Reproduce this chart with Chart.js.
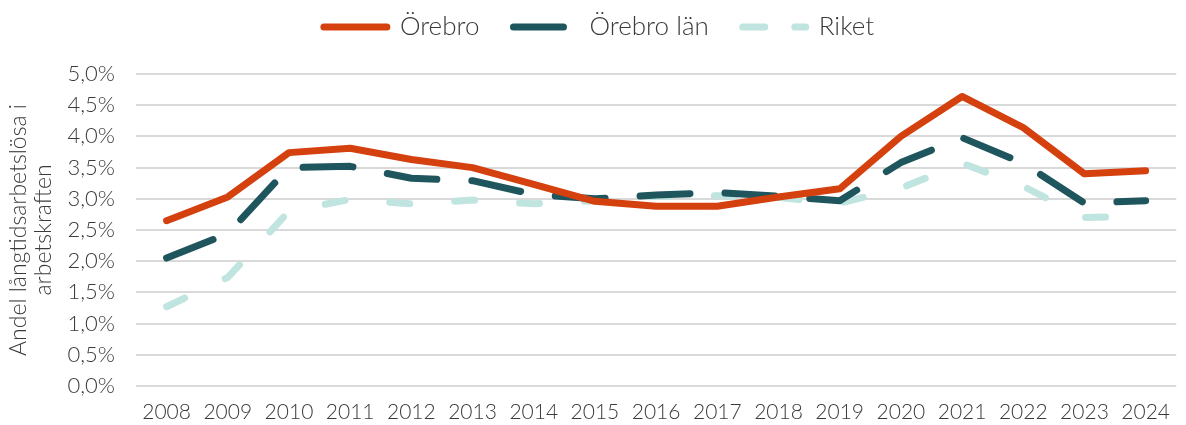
<!DOCTYPE html>
<html>
<head>
<meta charset="utf-8">
<script src="https://cdn.jsdelivr.net/npm/chart.js@4"></script>
<style>
html,body{margin:0;padding:0;background:#fff;}
#wrap{width:1186px;height:425px;position:relative;}
</style>
</head>
<body>
<div id="wrap"><canvas id="c"></canvas></div>
<script>
const years = ['2008','2009','2010','2011','2012','2013','2014','2015','2016','2017','2018','2019','2020','2021','2022','2023','2024'];
const orebro    = [2.65,3.03,3.74,3.81,3.63,3.50,3.23,2.96,2.88,2.88,3.03,3.16,4.00,4.64,4.14,3.40,3.45];
const orebroLan = [2.05,2.44,3.50,3.52,3.33,3.29,3.07,3.00,3.06,3.10,3.04,2.97,3.58,3.98,3.57,2.93,2.97];
const riket     = [1.27,1.74,2.80,2.99,2.92,2.98,2.92,2.97,3.04,3.05,3.02,2.93,3.17,3.57,3.20,2.70,2.72];
const seriesNames = ['Örebro','Örebro län','Riket'];
const yTitle = ['Andel långtidsarbetslösa i','arbetskraften'];

const FONT = "'Lato', 'Open Sans', sans-serif";
const TXT = '#3a3a3a';

const PLOT_TOP = 74, PLOT_BOTTOM = 386, PLOT_LEFT = 136, LEGEND_Y = 27;
const legendDash = [[], [50, 35], [22, 30]];

const legendPlace = {
  id: 'legendPlace',
  beforeInit(chart) {
    const lg = chart.legend;
    const origFit = lg.fit;
    lg.fit = function() {
      origFit.call(this);
      this.height = PLOT_TOP;
    };
    const origDraw = lg.draw;
    lg.draw = function() {
      const hb = this.legendHitBoxes && this.legendHitBoxes[0];
      const dy = hb ? LEGEND_Y - (hb.top + hb.height / 2) : 0;
      const ctx = this.ctx;
      ctx.save();
      ctx.translate(6, dy);
      origDraw.apply(this, arguments);
      ctx.restore();
    };
  }
};

new Chart(document.getElementById('c'), {
  type: 'line',
  plugins: [legendPlace],
  data: {
    labels: years,
    datasets: [
      {label: seriesNames[0], data: orebro, borderColor: '#D5400F', backgroundColor: '#D5400F', borderWidth: 7, pointRadius: 0, borderCapStyle: 'round', borderJoinStyle: 'round', tension: 0},
      {label: seriesNames[1], data: orebroLan, borderColor: '#1F555C', backgroundColor: '#1F555C', borderWidth: 7, pointRadius: 0, borderDash: [50, 35], borderCapStyle: 'round', borderJoinStyle: 'round', tension: 0},
      {label: seriesNames[2], data: riket, borderColor: '#C0E4DF', backgroundColor: '#C0E4DF', borderWidth: 7, pointRadius: 0, borderDash: [20, 45], borderCapStyle: 'round', borderJoinStyle: 'round', tension: 0}
    ]
  },
  options: {
    responsive: true,
    maintainAspectRatio: false,
    animation: false,
    layout: {padding: {left: 0, right: 0, top: 0, bottom: 0}},
    plugins: {
      tooltip: {enabled: false},
      legend: {
        position: 'top',
        align: 'center',
        labels: {
          color: TXT,
          font: {family: FONT, size: 26, weight: '300'},
          usePointStyle: true,
          pointStyleWidth: 63,
          boxHeight: 10,
          padding: 34,
          generateLabels(chart) {
            return chart.data.datasets.map((ds, i) => ({
              text: ds.label,
              fillStyle: ds.borderColor,
              strokeStyle: ds.borderColor,
              lineWidth: 7,
              lineCap: 'round',
              lineDash: legendDash[i],
              pointStyle: 'line',
              datasetIndex: i,
              hidden: false,
              fontColor: TXT
            }));
          }
        }
      }
    },
    scales: {
      x: {
        offset: true,
        grid: {display: false, drawTicks: false},
        border: {display: false},
        ticks: {color: TXT, font: {family: FONT, size: 21, weight: '300', lineHeight: 1.0}, padding: 16, maxRotation: 0, autoSkip: false},
        afterFit(scale) { scale.height = 425 - PLOT_BOTTOM; }
      },
      y: {
        min: 0, max: 5,
        grid: {color: '#d9d9d9', lineWidth: 2, drawTicks: false},
        border: {display: false},
        ticks: {
          stepSize: 0.5,
          color: TXT,
          font: {family: FONT, size: 22, weight: '300'},
          padding: 21,
          callback: v => v.toFixed(1).replace('.', ',') + '%'
        },
        title: {
          display: true,
          text: yTitle,
          color: TXT,
          font: {family: FONT, size: 23, weight: '300', lineHeight: 1.09},
          padding: {top: 6, bottom: 0}
        },
        afterFit(scale) { scale.width = PLOT_LEFT; }
      }
    }
  }
});
</script>
</body>
</html>
